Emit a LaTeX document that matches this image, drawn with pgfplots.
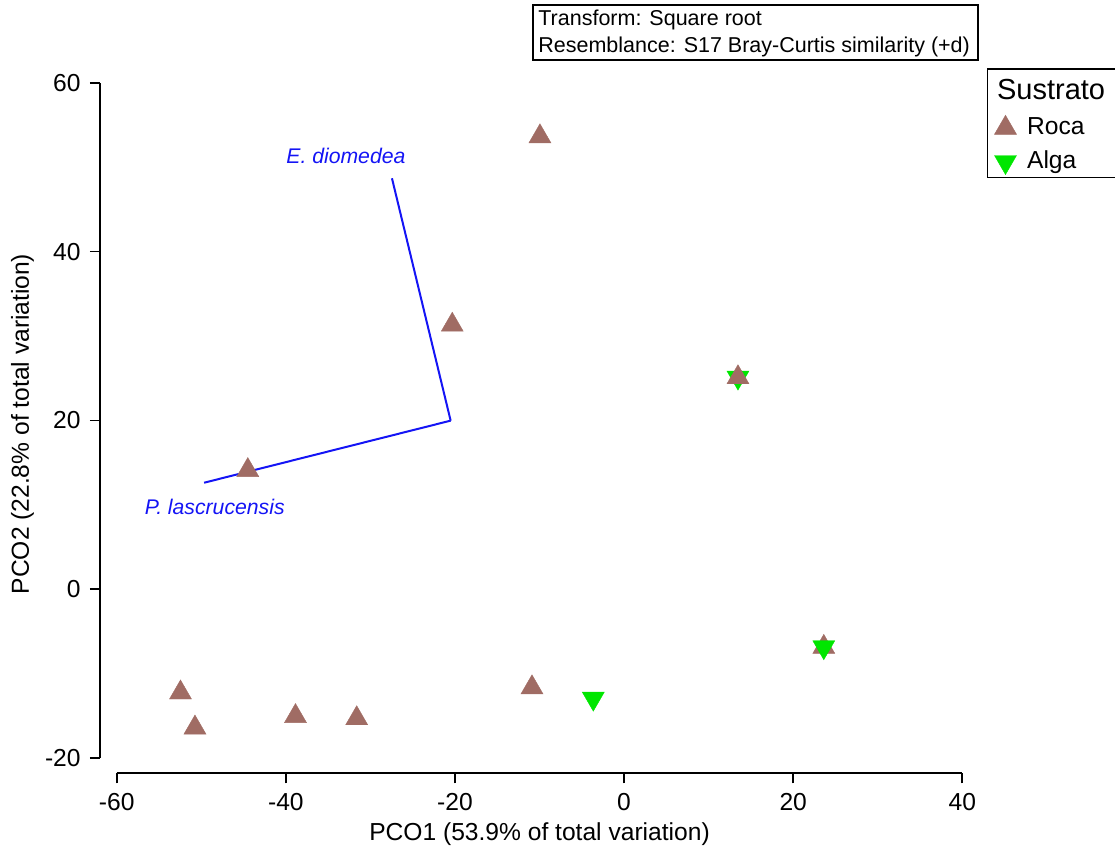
\documentclass[border=0pt]{standalone}
\usepackage{fontspec}
\setmainfont{Liberation Sans}
\usepackage{pgfplots}
\pgfplotsset{compat=1.18}
\definecolor{roca}{RGB}{160,108,100}
\definecolor{alga}{RGB}{0,230,0}
\definecolor{vec}{RGB}{20,20,245}
\newcommand{\tickfont}{\fontsize{12.3}{14}\selectfont}
\pgfplotsset{mylegimg/.style={legend image code/.code={\draw[mark repeat=2,mark phase=2,##1] plot coordinates {(0pt,0pt) (5.7pt,0pt) (11.4pt,0pt)};}}}
\begin{document}
\begin{tikzpicture}
\useasboundingbox (-50pt,-39.35pt) rectangle (507.5pt,386.65pt);
\begin{axis}[
  at={(0pt,0pt)}, anchor=south west,
  scale only axis, width=431.15pt, height=345.3pt,
  xmin=-61.98, xmax=40, ymin=-21.78, ymax=60,
  clip=false,
  axis line style={draw=none},
  xtick={-60,-40,-20,0,20,40}, ytick={-20,0,20,40,60},
  tick pos=left,
  tick align=outside, major tick length=5pt,
  tick style={black, line width=0.9pt},
  ticklabel style={font=\tickfont},
  /pgf/number format/assume math mode=true,
  xticklabel style={inner sep=0pt, yshift=-5pt},
  yticklabel style={inner sep=0pt, xshift=-4.5pt},
  xlabel={PCO1 (53.9\% of total variation)},
  ylabel={PCO2 (22.8\% of total variation)},
  label style={font=\tickfont},
  xlabel style={at={(axis description cs:0.5097,-0.0885)}, anchor=center},
  ylabel style={at={(axis description cs:-0.0899,0.5058)}, anchor=center},
  legend style={at={(axis description cs:1.0283,1.0209)}, anchor=north west,
    draw=black, line width=0.8pt, font=\tickfont,
    inner xsep=3.3pt, inner ysep=1.45pt, row sep=5.45pt, column sep=5.3pt,
    nodes={inner sep=0pt, text height=9pt, text depth=2.5pt},
    cells={anchor=west}},
  legend cell align=left,
]
\addlegendimage{empty legend}
\addlegendentry[text height=13.55pt, text depth=2.65pt]{\hspace*{-15pt}\fontsize{14.5}{16}\selectfont Sustrato\hspace*{8pt}}

% Alga sample drawn beneath its Roca twin
\addplot[only marks, mark=triangle*, mark size=6.35pt, color=alga,
  mark options={rotate=180, line width=0.2pt}, forget plot]
  coordinates {(13.47,25.1)};

\addplot[only marks, mark=triangle*, mark size=6.35pt, color=roca,
  mark options={line width=0.2pt}, mylegimg]
  coordinates {
  (-9.95,53.63)
  (-20.32,31.32)
  (13.47,25.1)
  (-44.5,14.11)
  (23.62,-6.83)
  (-52.46,-12.23)
  (-50.75,-16.38)
  (-38.86,-15.02)
  (-31.62,-15.28)
  (-10.89,-11.62)
  };
\addlegendentry{Roca}

\addplot[only marks, mark=triangle*, mark size=6.35pt, color=alga,
  mark options={rotate=180, line width=0.2pt}, mylegimg]
  coordinates {
  (23.62,-6.83)
  (-3.64,-12.92)
  };
\addlegendentry{Alga}

% vectors
\addplot[color=vec, line width=1pt, forget plot] coordinates {(-20.51,19.98) (-27.45,48.68)};
\addplot[color=vec, line width=1pt, forget plot] coordinates {(-20.51,19.98) (-49.67,12.63)};
\node[anchor=base, text=vec, font=\fontsize{10.6}{12}\selectfont\itshape] at (axis cs:-32.9,50.46) {E. diomedea};
\node[anchor=base, text=vec, font=\fontsize{10.6}{12}\selectfont\itshape] at (axis cs:-48.41,8.81) {P. lascrucensis};

% detached axis lines
\draw[line width=0.9pt] (axis cs:-60,-21.78) -- (axis cs:40,-21.78);
\draw[line width=0.9pt] (axis cs:-61.98,-20) -- (axis cs:-61.98,60);
\end{axis}
% info box
\draw[line width=0.8pt] (216.5pt,356.65pt) rectangle (439pt,384.15pt);
\node[anchor=base west, inner sep=0pt, font=\fontsize{10.75}{12}\selectfont] at (219pt,373.65pt) {Transform: Square root};
\node[anchor=base west, inner sep=0pt, font=\fontsize{10.75}{12}\selectfont] at (219pt,360.15pt) {Resemblance: S17 Bray-Curtis similarity (+d)};
\end{tikzpicture}
\end{document}
